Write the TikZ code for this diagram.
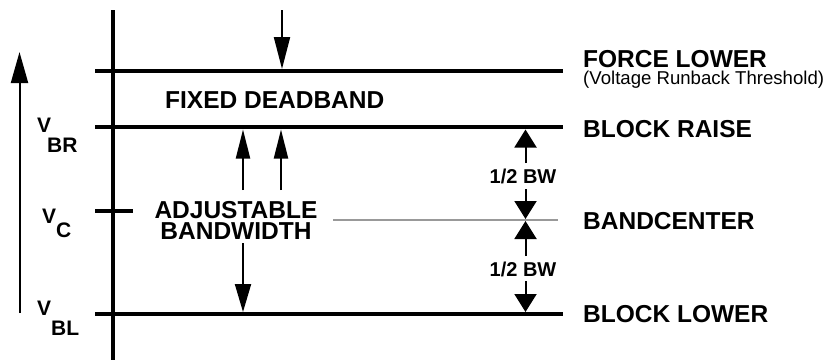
\documentclass[tikz,border=0pt]{standalone}
\usepackage{fontspec}
\setmainfont{Liberation Sans}
\usetikzlibrary{arrows.meta}
\begin{document}
\begin{tikzpicture}[x=1pt,y=-1pt,
  level/.style={line width=4pt},
  axis/.style={line width=3.5pt},
  bigarr/.style={line width=2pt,-{Triangle[length=31pt,width=17pt]}},
  midarr/.style={line width=2pt,-{Triangle[length=29pt,width=14pt]}},
  bwarr/.style={line width=2pt,-{Triangle[length=18pt,width=22pt]}},
  lbl/.style={inner sep=0pt,anchor=base west,font=\fontsize{24.5}{24}\selectfont\bfseries},
  vlbl/.style={inner sep=0pt,anchor=base west,font=\fontsize{21}{21}\selectfont\bfseries},
  bwlbl/.style={inner sep=0pt,anchor=base,font=\fontsize{20}{20}\selectfont\bfseries},
  small/.style={inner sep=0pt,anchor=base west,font=\fontsize{18.6}{18}\selectfont}]
\useasboundingbox (0,0) rectangle (825,360);
% coordinates
\coordinate (axT) at (113,10);
\coordinate (axB) at (113,360);
\coordinate (flL) at (95,71);
\coordinate (flR) at (563,71);
\coordinate (brL) at (95,127);
\coordinate (brR) at (563,127);
\coordinate (blL) at (95,314);
\coordinate (blR) at (563,314);
\coordinate (vcL) at (95,211);
\coordinate (vcR) at (133,211);
\coordinate (bcL) at (333,220);
\coordinate (bcR) at (558,220);
% axis and levels
\draw[axis] (axT) -- (axB);
\draw[level] (flL) -- (flR);
\draw[level] (brL) -- (brR);
\draw[level] (blL) -- (blR);
\draw[level] (vcL) -- (vcR);
\draw[line width=1.5pt,black!40] (bcL) -- (bcR);
% left rising arrow
\coordinate (ra0) at (19.5,313);
\coordinate (ra1) at (19.5,52);
\draw[bigarr] (ra0) -- (ra1);
% force lower arrow
\coordinate (fa0) at (282,10);
\coordinate (fa1) at (282,69);
\draw[bigarr,-{Triangle[length=32pt,width=16pt]}] (fa0) -- (fa1);
% adjustable bandwidth arrows
\coordinate (u10) at (243,190);
\coordinate (u11) at (243,129.5);
\coordinate (u20) at (281,190);
\coordinate (u21) at (281,129.5);
\coordinate (d10) at (243,243);
\coordinate (d11) at (243,312);
\draw[midarr] (u10) -- (u11);
\draw[midarr] (u20) -- (u21);
\draw[midarr,-{Triangle[length=28pt,width=16pt]}] (d10) -- (d11);
% half bandwidth arrows
\coordinate (h10) at (525.5,163);
\coordinate (h11) at (525.5,129.5);
\coordinate (h20) at (525.5,189);
\coordinate (h21) at (525.5,219);
\coordinate (h30) at (525.5,256);
\coordinate (h31) at (525.5,221);
\coordinate (h40) at (525.5,281);
\coordinate (h41) at (525.5,312);
\draw[bwarr] (h10) -- (h11);
\draw[bwarr] (h20) -- (h21);
\draw[bwarr] (h30) -- (h31);
\draw[bwarr] (h40) -- (h41);
% texts
\node[lbl] (fd) at (165,108) {FIXED DEADBAND};
\node[lbl,anchor=base] (adj) at (236,218) {ADJUSTABLE};
\node[lbl,anchor=base] (bw) at (236,239) {BANDWIDTH};
\node[bwlbl] (hb1) at (523,183) {1/2 BW};
\node[bwlbl] (hb2) at (523,276) {1/2 BW};
\node[lbl] (tfl) at (583,67) {FORCE LOWER};
\node[small] (tvr) at (583,84) {(Voltage Runback Threshold)};
\node[lbl] (tbr) at (583,137) {BLOCK RAISE};
\node[lbl] (tbc) at (583,229) {BANDCENTER};
\node[lbl] (tbl) at (583,322) {BLOCK LOWER};
\node[vlbl] (vbr) at (37,132) {V};
\node[vlbl] (vbrs) at (47,152) {BR};
\node[vlbl] (vc) at (42,223) {V};
\node[vlbl] (vcs) at (56,237) {C};
\node[vlbl] (vbl) at (37,315) {V};
\node[vlbl] (vbls) at (51,335) {BL};
\end{tikzpicture}
\end{document}
